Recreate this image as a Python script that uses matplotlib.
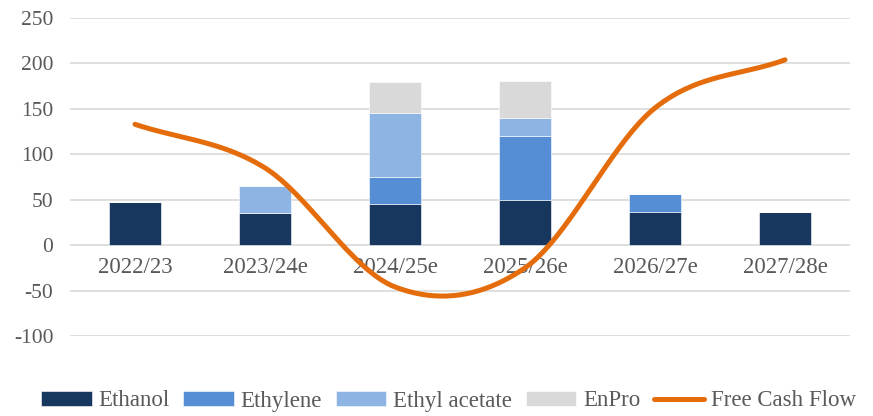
import matplotlib
import matplotlib.pyplot as plt
import numpy as np

matplotlib.use("Agg")

# data
years = ["2022/23", "2023/24e", "2024/25e", "2025/26e", "2026/27e", "2027/28e"]
ethanol = [47, 35, 45, 50, 36, 37]
ethylene = [0, 0, 30, 70, 20, 0]
ethyl_acetate = [0, 30, 70, 20, 0, 0]
enpro = [0, 0, 35, 41, 0, 0]
free_cash_flow = [133, 85, -46, -25, 151, 204]

series = [
    ("Ethanol", ethanol, "#17375E"),
    ("Ethylene", ethylene, "#558ED5"),
    ("Ethyl acetate", ethyl_acetate, "#8EB4E3"),
    ("EnPro", enpro, "#D9D9D9"),
]


def smooth_line(xs, ys, steps=40):
    # catmull-rom style smoothing, roughly what excel does for "smoothed line"
    xs = np.asarray(xs, dtype=float)
    ys = np.asarray(ys, dtype=float)
    px = np.concatenate([[2 * xs[0] - xs[1]], xs, [2 * xs[-1] - xs[-2]]])
    py = np.concatenate([[2 * ys[0] - ys[1]], ys, [2 * ys[-1] - ys[-2]]])
    out_x, out_y = [], []
    for i in range(1, len(px) - 2):
        t = np.linspace(0, 1, steps, endpoint=(i == len(px) - 3))
        m0 = (py[i + 1] - py[i - 1]) / 2
        m1 = (py[i + 2] - py[i]) / 2
        h00 = 2 * t**3 - 3 * t**2 + 1
        h10 = t**3 - 2 * t**2 + t
        h01 = -2 * t**3 + 3 * t**2
        h11 = t**3 - t**2
        out_x.append(px[i] + t * (px[i + 1] - px[i]))
        out_y.append(h00 * py[i] + h10 * m0 + h01 * py[i + 1] + h11 * m1)
    return np.concatenate(out_x), np.concatenate(out_y)


plt.rcParams["font.family"] = ["Liberation Serif", "DejaVu Serif"]
plt.rcParams["axes.unicode_minus"] = False
text_color = "#595959"

fig = plt.figure(figsize=(8.73, 4.16), dpi=100)
ax = fig.add_axes([70 / 873, 1 - 336 / 416, 780 / 873, 318 / 416])

x = np.arange(len(years))
bottom = np.zeros(len(years))
handles = []
for name, values, color in series:
    vals = np.array(values, dtype=float)
    bars = ax.bar(x, vals, width=0.4, bottom=bottom, color=color, edgecolor="white",
                  linewidth=0.4, label=name, zorder=2)
    handles.append(bars)
    bottom += vals

sx, sy = smooth_line(x, free_cash_flow)
(fcf_line,) = ax.plot(sx, sy, color="#E46C0A", linewidth=3.6, solid_capstyle="round",
                      label="Free Cash Flow", zorder=3)
handles.append(fcf_line)

ax.set_xlim(-0.5, len(years) - 0.5)
ax.set_ylim(-100, 250)
ax.set_yticks(np.arange(-100, 251, 50))
ax.set_xticks([])
ax.tick_params(axis="y", length=0, labelsize=15.5, labelcolor=text_color, pad=12)
ax.grid(axis="y", color="#D9D9D9", linewidth=1.2, zorder=0)
ax.set_axisbelow(True)
for spine in ax.spines.values():
    spine.set_visible(False)

for xi, label in zip(x, years):
    ax.text(xi, -25, label, ha="center", va="center", fontsize=16.5,
            color=text_color, zorder=1)

labels = [h.get_label() for h in handles]
leg = fig.legend(handles, labels, loc="center", bbox_to_anchor=(0.514, 1 - 401 / 416),
                 ncol=5, frameon=False, fontsize=16.5, handlelength=2.2,
                 handleheight=0.65, handletextpad=0.3, columnspacing=0.6)
for t in leg.get_texts():
    t.set_color(text_color)

plt.savefig("out.png", dpi=100)
plt.close(fig)
